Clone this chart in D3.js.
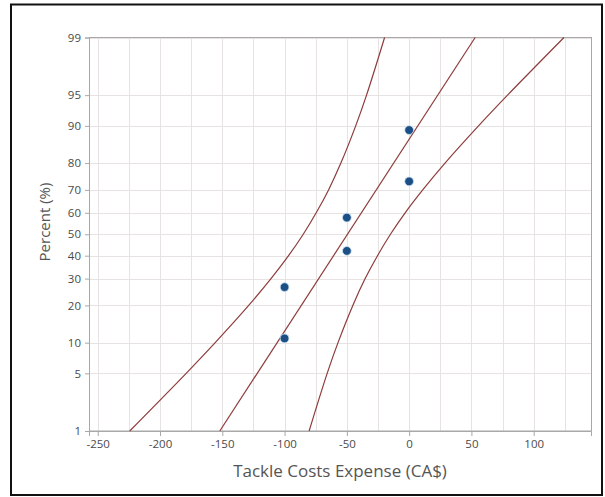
<!DOCTYPE html>
<html>
<head>
<meta charset="utf-8">
<script src="https://cdn.jsdelivr.net/npm/d3@7"></script>
<style>
  html, body { margin: 0; padding: 0; background: #fff; }
  svg { display: block; font-family: "Open Sans", "Noto Sans", sans-serif; }
</style>
</head>
<body>
<svg id="chart" width="605" height="497"></svg>
<script>
// Observations: expense value and plotting position (percent)
const obsExpense = [-100, -100, -50, -50, 0, 0];
const obsPercent = [10.9, 26.6, 42.2, 57.8, 73.4, 89.1];

// Fitted normal line (straight on the probability scale)
const fitPercent = [1, 99];
const fitExpense = [-152, 53];

// Confidence band, sampled at the percent gridlines
const bandPercent = [1, 5, 10, 20, 30, 40, 50, 60, 70, 80, 90, 95, 99];
const bandLower   = [-224.3, -179, -155.7, -128.8, -110.9, -96.8, -85, -74.6, -64.7, -54.8, -42.9, -34.2, -19.7];
const bandUpper   = [-80.3, -65.8, -57.1, -45.2, -35.3, -25.4, -15, -3.2, 10.9, 28.8, 55.7, 79, 124.3];

// Axis ticks
const xTicks = [-250, -200, -150, -100, -50, 0, 50, 100];
const xGrid  = [-250, -225, -200, -175, -150, -125, -100, -75, -50, -25, 0, 25, 50, 75, 100, 125];
const yTicks = [1, 5, 10, 20, 30, 40, 50, 60, 70, 80, 90, 95, 99];

// Inverse standard normal CDF (Acklam) for the probability axis
function probit(p) {
  const a = [-3.969683028665376e+01, 2.209460984245205e+02, -2.759285104469687e+02,
             1.383577518672690e+02, -3.066479806614716e+01, 2.506628277459239e+00];
  const b = [-5.447609879822406e+01, 1.615858368580409e+02, -1.556989798598866e+02,
             6.680131188771972e+01, -1.328068155288572e+01];
  const c = [-7.784894002430293e-03, -3.223964580411365e-01, -2.400758277161838e+00,
             -2.549671010241299e+00, 4.374664141464968e+00, 2.938163982698783e+00];
  const d = [7.784695709041462e-03, 3.224671290700398e-01, 2.445134137142996e+00,
             3.754408661907416e+00];
  const pl = 0.02425, ph = 1 - pl;
  let q, r;
  if (p < pl) {
    q = Math.sqrt(-2 * Math.log(p));
    return (((((c[0]*q+c[1])*q+c[2])*q+c[3])*q+c[4])*q+c[5]) / ((((d[0]*q+d[1])*q+d[2])*q+d[3])*q+1);
  } else if (p <= ph) {
    q = p - 0.5; r = q * q;
    return (((((a[0]*r+a[1])*r+a[2])*r+a[3])*r+a[4])*r+a[5])*q / (((((b[0]*r+b[1])*r+b[2])*r+b[3])*r+b[4])*r+1);
  } else {
    q = Math.sqrt(-2 * Math.log(1 - p));
    return -(((((c[0]*q+c[1])*q+c[2])*q+c[3])*q+c[4])*q+c[5]) / ((((d[0]*q+d[1])*q+d[2])*q+d[3])*q+1);
  }
}

const svg = d3.select("#chart");
const plot = { left: 89, right: 591, top: 37.5, bottom: 431 };

const x = d3.scaleLinear().domain([-257, 146]).range([plot.left, plot.right]);
const z = d3.scaleLinear().domain([probit(0.01), probit(0.99)]).range([plot.bottom, plot.top]);
const y = p => z(probit(p / 100));

// Outer frame
svg.append("rect")
  .attr("x", 11).attr("y", 4.5).attr("width", 591).attr("height", 490.5)
  .attr("fill", "none").attr("stroke", "#111").attr("stroke-width", 2);

// Gridlines
const grid = svg.append("g").attr("stroke", "#e8e3e3").attr("stroke-width", 1);
grid.selectAll("line.vx").data(xGrid).join("line")
  .attr("x1", d => Math.round(x(d)) + 0.5).attr("x2", d => Math.round(x(d)) + 0.5)
  .attr("y1", plot.top).attr("y2", plot.bottom);
grid.selectAll("line.hy").data(yTicks).join("line")
  .attr("y1", d => Math.round(y(d)) + 0.5).attr("y2", d => Math.round(y(d)) + 0.5)
  .attr("x1", plot.left).attr("x2", plot.right);

// Plot box
svg.append("rect")
  .attr("x", plot.left + 0.5).attr("y", plot.top)
  .attr("width", plot.right - plot.left).attr("height", plot.bottom - plot.top)
  .attr("fill", "none").attr("stroke", "#a8a8a8").attr("stroke-width", 1);

// Axes
const xAxis = d3.axisBottom(x).tickValues(xTicks).tickSize(5).tickPadding(4)
  .tickFormat(d => String(d).replace("−", "-"));
const gx = svg.append("g").attr("transform", `translate(0,${plot.bottom})`).call(xAxis);

const yAxis = d3.axisLeft(z)
  .tickValues(yTicks.map(p => probit(p / 100)))
  .tickFormat((d, i) => yTicks[i]).tickSize(4).tickPadding(4);
const gy = svg.append("g").attr("transform", `translate(${plot.left},0)`).call(yAxis);

[gx, gy].forEach(g => {
  g.select(".domain").attr("stroke", "#a8a8a8");
  g.selectAll(".tick line").attr("stroke", "#a8a8a8");
  g.selectAll(".tick text").attr("fill", "#4a4a4a").attr("font-size", 11.5)
    .attr("font-family", "'Open Sans', sans-serif");
});

// Axis titles
svg.append("text")
  .attr("x", (plot.left + plot.right) / 2).attr("y", 477)
  .attr("text-anchor", "middle").attr("fill", "#555")
  .attr("font-size", 17).text("Tackle Costs Expense (CA$)");

svg.append("text")
  .attr("transform", `translate(50,222) rotate(-90)`)
  .attr("text-anchor", "middle").attr("fill", "#555")
  .attr("font-size", 15).text("Percent (%)");

// Fit line and confidence band
const curveColor = "#8e3b3b";
const line = d3.line().x(d => x(d[0])).y(d => y(d[1])).curve(d3.curveCatmullRom.alpha(0.5));
const lines = svg.append("g").attr("fill", "none").attr("stroke", curveColor).attr("stroke-width", 1.2);

lines.append("path").datum(bandLower.map((v, i) => [v, bandPercent[i]])).attr("d", line);
lines.append("path").datum(bandUpper.map((v, i) => [v, bandPercent[i]])).attr("d", line);
lines.append("path").datum(fitExpense.map((v, i) => [v, fitPercent[i]]))
  .attr("d", d3.line().x(d => x(d[0])).y(d => y(d[1])));

// Observed points
svg.append("g").selectAll("circle").data(obsExpense.map((v, i) => [v, obsPercent[i]])).join("circle")
  .attr("cx", d => x(d[0])).attr("cy", d => y(d[1])).attr("r", 4.4)
  .attr("fill", "#1b4f86").attr("stroke", "#cfe3f5").attr("stroke-width", 0.8);
</script>
</body>
</html>
